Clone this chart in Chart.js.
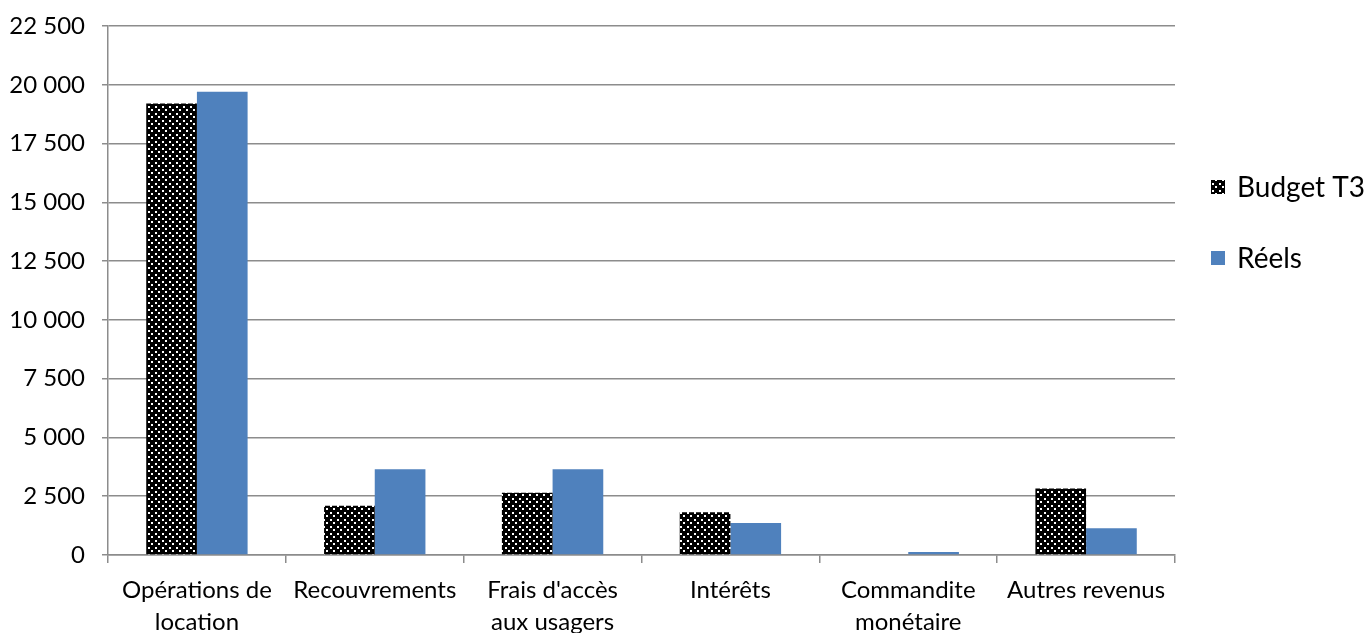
<!DOCTYPE html>
<html>
<head>
<meta charset="utf-8">
<script src="https://cdn.jsdelivr.net/npm/chart.js@4/dist/chart.umd.min.js"></script>
<style>
html,body{margin:0;padding:0;background:#fff;}
#wrap{width:1371px;height:633px;position:relative;}
</style>
</head>
<body>
<div id="wrap"><canvas id="c" width="1371" height="633"></canvas></div>
<script>
const categories = [["Opérations de","location"],["Recouvrements"],["Frais d'accès","aux usagers"],["Intérêts"],["Commandite","monétaire"],["Autres revenus"]];
const seriesNames = ["Budget T3","Réels"];
const budgetT3 = [19200, 2100, 2650, 1820, 0, 2830];
const reels = [19700, 3650, 3650, 1360, 130, 1140];
const yMin = 0, yMax = 22500, yStep = 2500;

function makePattern(){
  const p = document.createElement('canvas');
  p.width = 7; p.height = 7;
  const g = p.getContext('2d');
  g.fillStyle = '#000'; g.fillRect(0,0,7,7);
  g.fillStyle = '#fff';
  g.fillRect(1,1,2,2);
  g.fillRect(4,4,2,2);
  return g.createPattern(p,'repeat');
}
const dots = makePattern();
const FONT = 'Lato, "Open Sans", sans-serif';
const gridColor = '#8c8c8c';

const legendPlugin = {
  id:'sideLegend',
  afterDraw(chart){
    const ctx = chart.ctx;
    ctx.save();
    const ys = [187, 258];
    chart.data.datasets.forEach((ds,i)=>{
      const y = ys[i];
      ctx.fillStyle = ds.backgroundColor;
      ctx.fillRect(1211, y-7, 14, 14);
      ctx.fillStyle = '#000';
      ctx.font = '28px ' + FONT;
      ctx.textBaseline = 'middle';
      ctx.textAlign = 'left';
      ctx.fillText(ds.label, 1237, y+1);
    });
    ctx.restore();
  }
};

new Chart(document.getElementById('c'), {
  type:'bar',
  data:{
    labels: categories,
    datasets:[
      {label: seriesNames[0], data: budgetT3, backgroundColor: dots, borderWidth:0},
      {label: seriesNames[1], data: reels, backgroundColor: '#4f81bd', borderWidth:0}
    ]
  },
  options:{
    responsive:false,
    animation:false,
    layout:{padding:{top:26,right:196,left:0,bottom:0}},
    plugins:{legend:{display:false}, tooltip:{enabled:false}},
    datasets:{bar:{barPercentage:1, categoryPercentage:0.57}},
    scales:{
      x:{
        grid:{display:true, offset:true, drawOnChartArea:false, drawTicks:true, tickLength:8, color:gridColor, lineWidth:1.5},
        border:{display:true, color:gridColor, width:1.5},
        ticks:{color:'#000', font:{family:FONT, size:24, lineHeight:1.33}, padding:11, maxRotation:0, autoSkip:false},
        afterFit(s){ s.height = 78; }
      },
      y:{
        min:yMin, max:yMax,
        ticks:{stepSize:yStep, color:'#000', font:{family:FONT, size:24}, padding:17,
          callback:(v)=> String(v).replace(/\B(?=(\d{3})+(?!\d))/g,' ')},
        grid:{color:gridColor, lineWidth:1.5, tickLength:6, drawTicks:true},
        border:{display:true, color:gridColor, width:1.5},
        afterFit(s){ s.width = 108; s.paddingTop = 0; s.paddingBottom = 0; }
      }
    }
  },
  plugins:[legendPlugin]
});
</script>
</body>
</html>
